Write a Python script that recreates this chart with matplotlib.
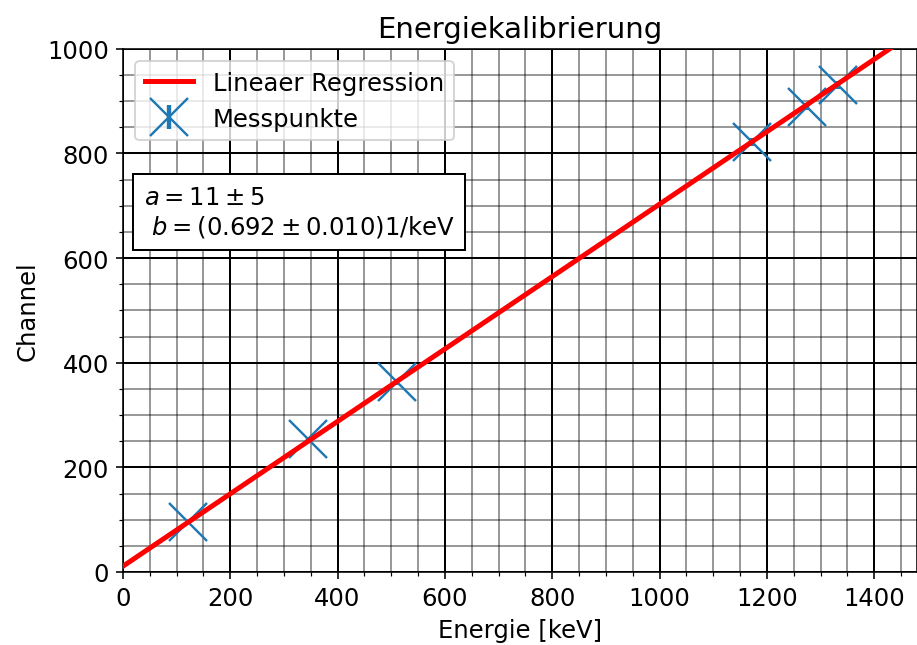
import numpy as np
import matplotlib
matplotlib.use("Agg")
import matplotlib.pyplot as plt
from matplotlib.ticker import MultipleLocator

energie = [121.8, 344.3, 511.0, 1173.2, 1274.5, 1332.5]
channel = [96, 254, 363, 822, 889, 931]
channel_err = [4, 4, 5, 8, 7, 8]

# Fitparameter
a = 11
b = 0.692
x_fit = np.linspace(0, 1500, 200)

plt.rcParams["font.size"] = 12.2

fig = plt.figure(figsize=(6.4, 4.508), dpi=143.3)
ax = fig.add_axes([0.134, 0.113, 0.866, 0.81])

ax.plot(x_fit, a + b * x_fit, color="red", linewidth=2.5, label="Lineaer Regression", zorder=3)
ax.errorbar(energie, channel, yerr=channel_err, fmt="x", markersize=19,
            markeredgewidth=1.2, elinewidth=2.2, color="tab:blue",
            label="Messpunkte", zorder=2)

ax.set_xlim(0, 1480)
ax.set_ylim(0, 1000)
ax.xaxis.set_major_locator(MultipleLocator(200))
ax.yaxis.set_major_locator(MultipleLocator(200))
ax.xaxis.set_minor_locator(MultipleLocator(50))
ax.yaxis.set_minor_locator(MultipleLocator(50))
ax.grid(which="major", color="black", linewidth=1.0)
ax.grid(which="minor", color="black", alpha=0.4, linewidth=1.0)
ax.set_axisbelow(True)

ax.set_title("Energiekalibrierung")
ax.set_xlabel("Energie [keV]")
ax.set_ylabel("Channel")
ax.legend(loc="upper left")

ax.text(0.026, 0.74, "$a = 11 \\pm 5$\n $b = (0.692 \\pm 0.010)1/\\mathrm{keV}$",
        transform=ax.transAxes, va="top", ha="left",
        bbox=dict(boxstyle="square,pad=0.45", facecolor="white", edgecolor="black"))

fig.savefig("out.png", dpi=143.3)
